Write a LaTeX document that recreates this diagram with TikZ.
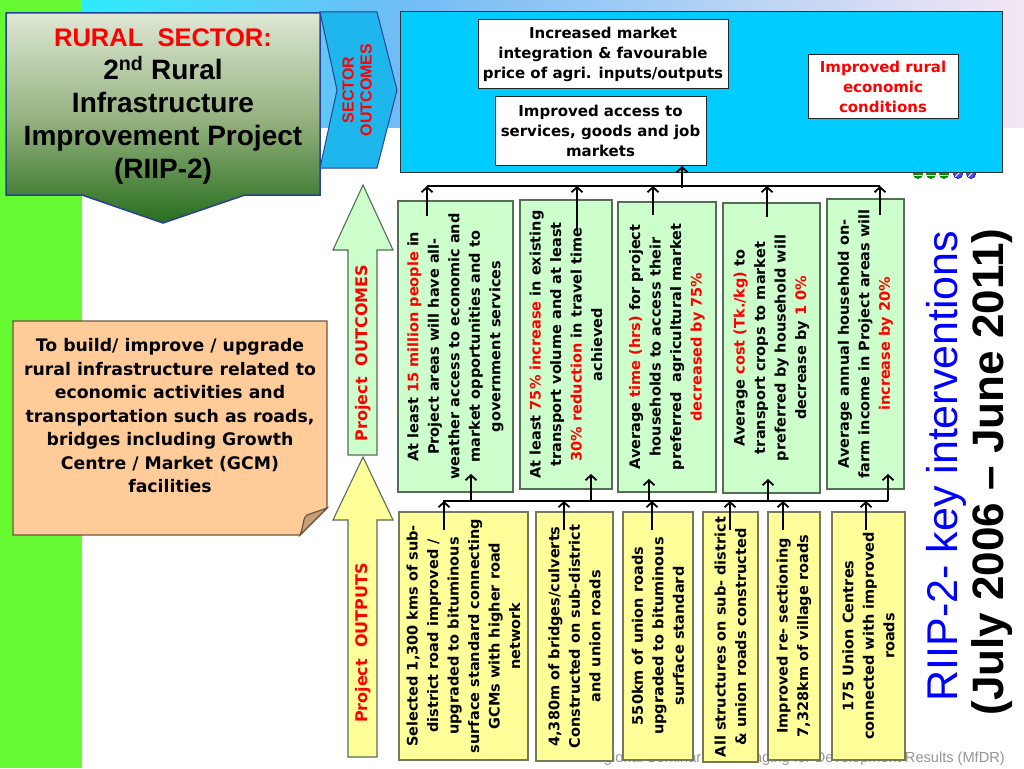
\documentclass[tikz,border=0pt]{standalone}
\usepackage{fontspec}
\setmainfont{DejaVu Sans}
\newfontfamily\arialf{Liberation Sans}
\usetikzlibrary{arrows.meta,calc}
\definecolor{greenstrip}{RGB}{102,250,51}
\definecolor{bandA}{RGB}{45,235,255}
\definecolor{bandB}{RGB}{112,188,245}
\definecolor{bandC}{RGB}{244,230,244}
\definecolor{bigblue}{RGB}{0,204,255}
\definecolor{chev}{RGB}{30,182,236}
\definecolor{navyb}{RGB}{40,64,150}
\definecolor{titleTop}{RGB}{222,232,212}
\definecolor{titleMid}{RGB}{150,178,128}
\definecolor{titleBot}{RGB}{40,110,30}
\definecolor{lgreen}{RGB}{204,255,204}
\definecolor{lyellow}{RGB}{255,255,153}
\definecolor{gborder}{RGB}{85,110,85}
\definecolor{yborder}{RGB}{120,120,90}
\definecolor{peach}{RGB}{255,204,153}
\definecolor{peachb}{RGB}{110,85,60}
\definecolor{foldtan}{RGB}{200,160,120}
\definecolor{footgray}{RGB}{150,150,150}
\newcommand{\redtxt}[1]{\textcolor{red}{#1}}
\begin{document}
\begin{tikzpicture}[x=1pt,y=-1pt,
  conn/.style={line width=1.8pt,-{Straight Barb[length=5pt,width=11pt]}},
  busline/.style={line width=1.8pt},
  outcomebox/.style={draw=gborder,fill=lgreen,line width=1.1pt,rotate=90,align=center,inner sep=1pt,
    font=\fontsize{14.5}{20.5}\selectfont\bfseries},
  outputbox/.style={draw=yborder,fill=lyellow,line width=1.1pt,rotate=90,align=center,inner sep=1pt,
    font=\fontsize{14.5}{20.5}\selectfont\bfseries},
  whitebox/.style={draw=black!85,fill=white,line width=1pt,align=center,inner sep=1pt,
    font=\fontsize{15}{20}\selectfont\bfseries},
  bigarrow/.style={draw=gborder,line width=1.1pt},
  arrowlabel/.style={rotate=90,text=red,font=\fontsize{16}{18}\selectfont\bfseries}
]
\useasboundingbox (0,0) rectangle (1024,768);
\fill[white] (0,0) rectangle (1024,768);
% background
\fill[greenstrip] (0,0) rectangle (82,768);
\shade[left color=bandA,right color=bandB] (82,0) rectangle (400,127);
\shade[left color=bandB,right color=bandC] (400,0) rectangle (1024,127);
% footer (mostly hidden)
\node[anchor=base east,text=footgray,inner sep=0,font=\arialf\fontsize{14.6}{16}\selectfont] (foot) at (1005,762) {RIIP-2 Regional Seminar on Managing for Development Results (MfDR)};
% title box
\path[top color=titleTop,bottom color=titleBot,middle color=titleMid,draw=navyb,line width=1.5pt]
  (6,13) -- (320,13) -- (320,195) -- (245,195) -- (163,223) -- (82,195) -- (6,195) -- cycle;
\node[align=center,inner sep=0,font=\arialf\bfseries\fontsize{28}{33}\selectfont] (title) at (163,107)
  {{\color{red}\fontsize{25.5}{33}\selectfont RURAL\ \ SECTOR:}\\2\textsuperscript{nd} Rural\\Infrastructure\\Improvement Project\\(RIIP-2)};
% sector outcomes chevron
\filldraw[fill=chev,draw=navyb,line width=1pt] (320,12) -- (377,12) -- (397,90) -- (377,168) -- (320,168) -- (337,90) -- cycle;
\node[rotate=90,align=center,text=red,inner sep=0,font=\arialf\bfseries\fontsize{16}{18}\selectfont] (secout) at (357,90) {SECTOR\\OUTCOMES};
% decorations
\foreach \xx in {918,931,944}{\filldraw[fill=green!60!black,draw=green!40!black,line width=0.6pt] (\xx,174) circle (4.5);
  \draw[white,line width=0.8pt] (\xx-4,175) -- (\xx+4,175);}
\foreach \xx in {958,971}{\filldraw[fill=blue!70,draw=blue!60!black,line width=0.6pt] (\xx,174) circle (4.5);
  \draw[white,line width=0.8pt] (\xx-3,177) -- (\xx+3,171);}
% big sector box
\node[draw=black!80,fill=bigblue,line width=1pt,minimum width=602,minimum height=160,inner sep=0] (sector) at (701,92) {};
\node[whitebox,minimum width=250,minimum height=68] (market) at (603,54)
  {Increased market\\integration \& favourable\\price of agri. inputs/outputs};
\node[whitebox,minimum width=211,minimum height=69] (access) at (600.5,130.5)
  {Improved access to\\services, goods and job\\markets};
\node[whitebox,minimum width=150,minimum height=63,text=red] (ruralcond) at (883,86.5)
  {Improved rural\\economic\\conditions};
% purpose box
\filldraw[fill=peach,draw=peachb,line width=1.2pt] (13,321) -- (327,321) -- (327,508) -- (300,535) -- (13,535) -- cycle;
\filldraw[fill=foldtan,draw=peachb,line width=1.2pt] (300,535) .. controls (304,525) and (303,517) .. (307,515) -- (327,508) -- cycle;
\node[align=center,inner sep=0,font=\fontsize{17.3}{23.5}\selectfont\bfseries] (purpose) at (170,416)
  {To build/ improve / upgrade\\rural infrastructure related to\\economic activities and\\transportation such as roads,\\bridges including Growth\\Centre / Market (GCM)\\facilities};
% big up arrows
\path[bigarrow,fill=lgreen] (363,185) -- (393,250) -- (377,250) -- (377,455) -- (348,455) -- (348,250) -- (333,250) -- cycle;
\node[arrowlabel] (projout) at (363,353) {Project\ \ OUTCOMES};
\path[bigarrow,fill=lyellow] (363,457) -- (393,520) -- (377,520) -- (377,757) -- (348,757) -- (348,520) -- (333,520) -- cycle;
\node[arrowlabel] (projoutp) at (363,643) {Project\ \ OUTPUTS};
% outcome boxes
\node[outcomebox,minimum width=291,minimum height=115] (oc1) at (455.5,346.5)
  {At least \redtxt{15 million people} in\\Project areas will have all-\\weather access to economic and\\market opportunities and to\\government services};
\node[outcomebox,minimum width=289,minimum height=92] (oc2) at (566,344.5)
  {At least \redtxt{75\% increase} in existing\\transport volume and at least\\\redtxt{30\% reduction} in travel time\\achieved};
\node[outcomebox,minimum width=290,minimum height=98] (oc3) at (667,347)
  {Average \redtxt{time (hrs)} for project\\households to access their\\preferred\ \ agricultural market\\\redtxt{decreased by 75\%}};
\node[outcomebox,minimum width=290,minimum height=97] (oc4) at (771.5,348)
  {Average \redtxt{cost (Tk./kg)} to\\transport crops to market\\preferred by household will\\decrease by \redtxt{1 0\%}};
\node[outcomebox,minimum width=290,minimum height=77] (oc5) at (865.5,344)
  {Average annual household on-\\farm income in Project areas will\\\redtxt{increase by 20\%}};
% output boxes
\node[outputbox,minimum width=248,minimum height=129] (op1) at (463.5,636)
  {Selected 1,300 kms of sub-\\district road improved /\\upgraded to bituminous\\surface standard connecting\\GCMs with higher road\\network};
\node[outputbox,minimum width=249,minimum height=77] (op2) at (574.5,636.5)
  {4,380m of bridges/culverts\\Constructed on sub-district\\and union roads};
\node[outputbox,minimum width=248,minimum height=70] (op3) at (658,636)
  {550km of union roads\\upgraded to bituminous\\surface standard};
\node[outputbox,minimum width=250,minimum height=55] (op4) at (730.5,637)
  {All structures on sub- district\\\& union roads constructed};
\node[outputbox,minimum width=248,minimum height=52] (op5) at (794,636)
  {Improved re- sectioning\\7,328km of village roads};
\node[outputbox,minimum width=248,minimum height=73] (op6) at (868.5,636)
  {175 Union Centres\\connected with improved\\roads};
% right title
\node[rotate=90,text=blue,inner sep=0,font=\arialf\fontsize{43}{48}\selectfont] (key1) at (946,466) {RIIP-2- key interventions};
\node[rotate=90,inner sep=0,font=\arialf\bfseries\fontsize{44}{48}\selectfont] (key2) at (992,472) {(July 2006 – June 2011)};
% connectors: outputs -> lower bus
\coordinate (lbL) at (443,501); \coordinate (lbR) at (888,501);
\draw[busline] (lbL) -- (lbR);
\foreach \i/\xx in {1/444,2/564,3/652,4/730,5/783,6/866}{
  \coordinate (os\i) at (\xx,530); \coordinate (ob\i) at (\xx,501);
  \draw[conn] (os\i) -- (ob\i);}
% lower bus -> outcomes
\foreach \i/\xx/\yy in {1/471/474,2/591/474,3/649/479,4/768/479,5/888/474}{
  \coordinate (lb\i) at (\xx,501); \coordinate (ot\i) at (\xx,\yy);
  \draw[conn] (lb\i) -- (ot\i);}
% outcomes -> upper bus
\coordinate (ubL) at (427,186); \coordinate (ubR) at (880,186);
\draw[busline] (ubL) -- (ubR);
\foreach \i/\xx/\yy in {1/427/216,2/577/230,3/653/215,4/767/217,5/880/215}{
  \coordinate (us\i) at (\xx,\yy); \coordinate (ue\i) at (\xx,186);
  \draw[conn] (us\i) -- (ue\i);}
% upper bus -> sector box
\coordinate (sb) at (682,188); \coordinate (st) at (682,166);
\draw[conn] (sb) -- (st);
\end{tikzpicture}
\end{document}
